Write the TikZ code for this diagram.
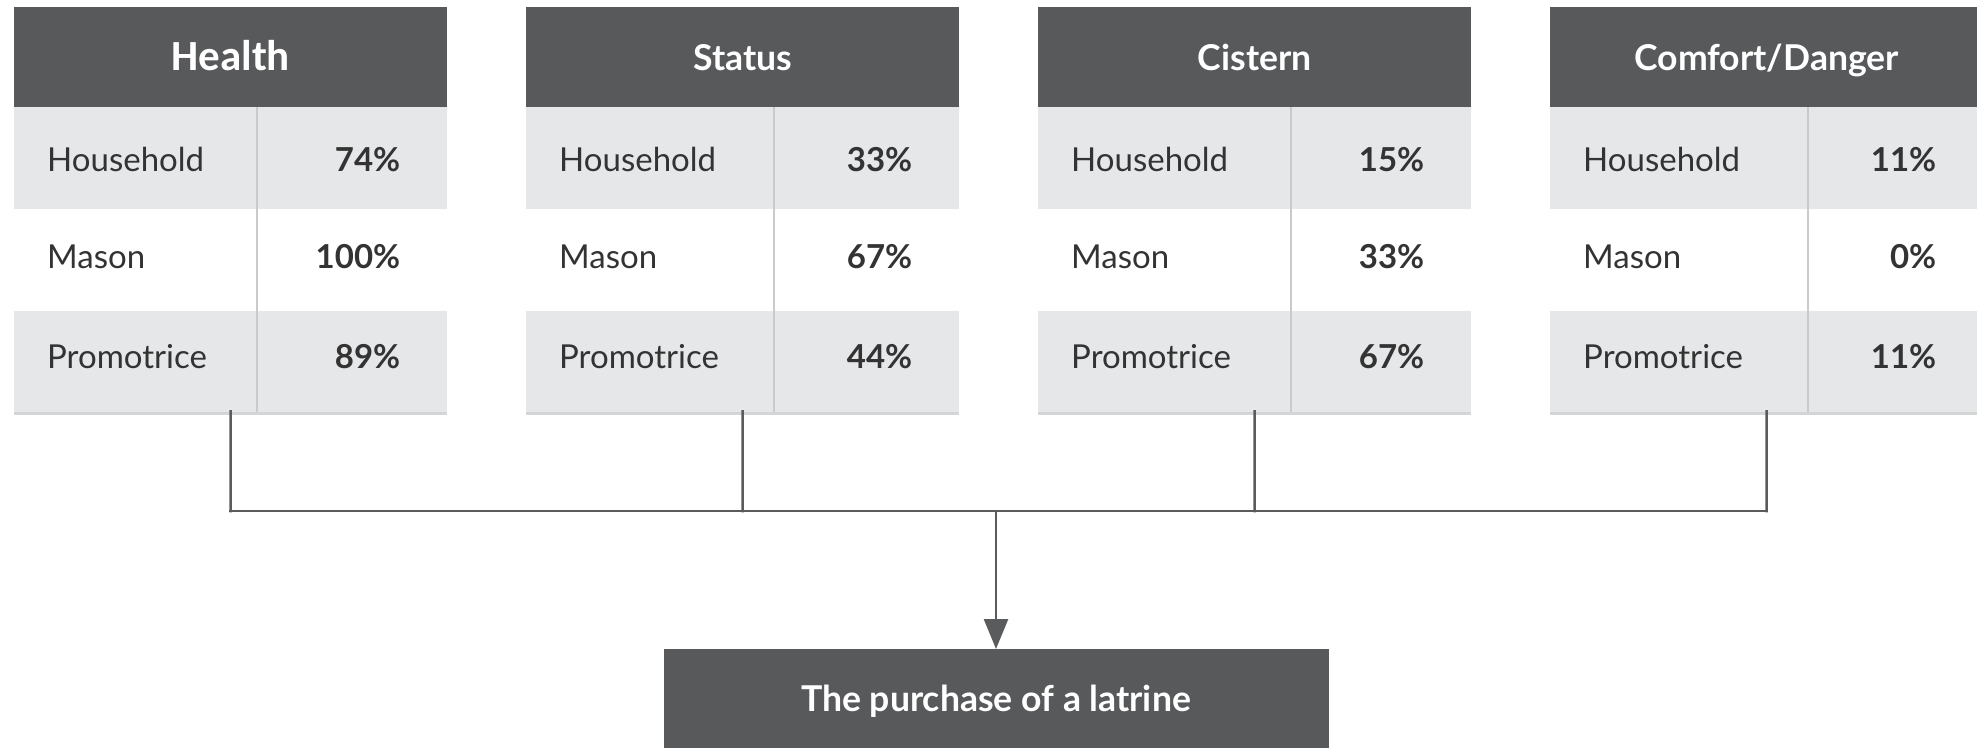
\documentclass[tikz,border=0pt]{standalone}
\usepackage{fontspec}
\setmainfont{Lato}
\newfontfamily\hfont{Carlito}
\usetikzlibrary{arrows.meta}
\definecolor{hdr}{HTML}{58595B}
\definecolor{rowg}{HTML}{E6E7E9}
\definecolor{divc}{HTML}{C8CBCE}
\definecolor{bordc}{HTML}{D3D5D7}
\definecolor{txt}{HTML}{333333}
\definecolor{conn}{HTML}{5A5B5D}
\newcommand\hdrfontA{\hfont\fontsize{43}{50}\selectfont\bfseries}
\newcommand\hdrfontB{\fontsize{35.6}{42}\selectfont\bfseries}
\begin{document}
\begin{tikzpicture}[x=1pt,y=-1pt,
  hdrbox/.style={fill=hdr, text=white, inner sep=0pt, minimum width=433pt, minimum height=100pt, anchor=north west, text height=26pt, text depth=0pt},
  rowbox/.style={inner sep=0pt, minimum width=433pt, minimum height=102pt, anchor=north west},
  lbl/.style={anchor=west, text=txt, font=\fontsize{33}{40}\selectfont, inner sep=0pt, text height=24pt, text depth=0pt},
  val/.style={anchor=east, text=txt, font=\fontsize{33}{40}\selectfont\bfseries, inner sep=0pt, text height=24pt, text depth=0pt},
  divline/.style={draw=divc, line width=2pt},
  bline/.style={draw=bordc, line width=2.5pt},
  conline/.style={draw=conn, line width=2.5pt, line cap=rect},
]
\useasboundingbox (0,0) rectangle (1977,748);
\fill[white] (0,0) rectangle (1977,748);

\foreach \i/\L/\D/\T/\F/\va/\vb/\vc in {
  1/14/243/Health/\hdrfontA/74/100/89,
  2/526/248/Status/\hdrfontB/33/67/44,
  3/1038/253/Cistern/\hdrfontB/15/33/67,
  4/1550/258/Comfort\slash Danger/\hdrfontB/11/0/11}{
  \node[hdrbox, font=\F] (h\i) at (\L,7) {\T};
  \node[rowbox, fill=rowg] (ra\i) at (\L,107) {};
  \node[rowbox] (rb\i) at (\L,209) {};
  \node[rowbox, fill=rowg] (rc\i) at (\L,311) {};
  \draw[divline] ([xshift=\D pt]ra\i.north west) -- ([xshift=\D pt]rc\i.south west);
  \draw[bline] (rc\i.south west) -- (rc\i.south east);
  \node[lbl] (la\i) at ([xshift=33pt,yshift=-1pt]ra\i.west) {Household};
  \node[lbl] (lb\i) at ([xshift=33pt,yshift=4pt]rb\i.west) {Mason};
  \node[lbl] (lc\i) at ([xshift=33pt,yshift=6pt]rc\i.west) {Promotrice};
  \node[val] (va\i) at ([xshift=-47pt,yshift=-1pt]ra\i.east) {\va\%};
  \node[val] (vb\i) at ([xshift=-47pt,yshift=4pt]rb\i.east) {\vb\%};
  \node[val] (vc\i) at ([xshift=-47pt,yshift=6pt]rc\i.east) {\vc\%};
  \coordinate (b\i) at (\L+216.5,511);
  \draw[conline] ([yshift=2pt]rc\i.south) -- (b\i);
}

\node[fill=hdr, text=white, inner sep=0pt, minimum width=665pt, minimum height=99pt, anchor=north,
  font=\fontsize{35.6}{42}\selectfont\bfseries, text height=26pt, text depth=0pt] (res) at (996,649) {The purchase of a latrine};

\draw[conline] (b1) -- (b4);
\coordinate (j) at (res.north |- b1);
\draw[conline, -{Triangle[width=24pt,length=30pt]}] (j) -- (res.north);
\end{tikzpicture}
\end{document}
